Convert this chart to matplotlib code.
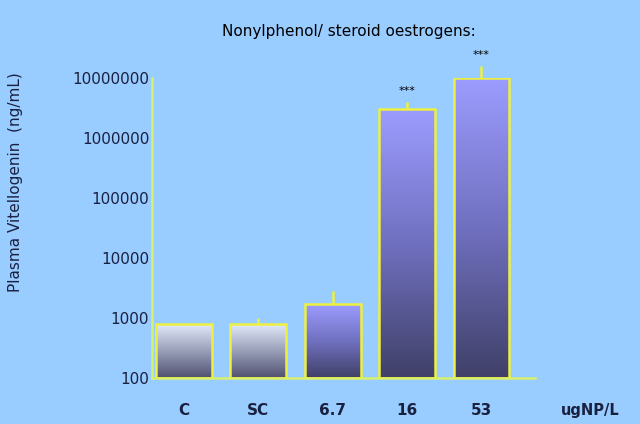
import numpy as np
import matplotlib.pyplot as plt
from matplotlib.colors import LinearSegmentedColormap

# Data
groups = ["C", "SC", "6.7", "16", "53"]
values = [800, 800, 1700, 3.0e6, 1.0e7]
err_up = [0, 200, 1100, 1.0e6, 6.0e6]
signif = ["", "", "", "***", "***"]

BG = "#99ccff"
AXIS = "#d8f070"
EDGE = "#eef040"
TXT = "#1a2040"

fig = plt.figure(figsize=(6.4, 4.24), dpi=100, facecolor=BG)
ax = fig.add_axes([0.2375, 0.1085, 0.5985, 0.7075], facecolor=BG)
ax.set_yscale("log")
ax.set_ylim(100, 1e7)
ax.set_xlim(-0.43, 4.72)

grey_cm = LinearSegmentedColormap.from_list("g", ["#e4ecfc", "#9aa0b8", "#505070"])
blue_cm = LinearSegmentedColormap.from_list("b", ["#9c9cff", "#7070c0", "#404068"])
grad = np.linspace(0, 1, 256).reshape(-1, 1)

x = np.arange(len(groups))
w = 0.75
bars = ax.bar(x, np.array(values) - 100, bottom=100, width=w,
              facecolor="none", edgecolor=EDGE, linewidth=1.8, zorder=3)

# gradient fill: drawn in axes coords so it runs evenly over each bar's height
to_axes = ax.transData + ax.transAxes.inverted()
for i, b in enumerate(bars):
    cm = grey_cm if i < 2 else blue_cm
    (l, bot), (r, top) = to_axes.transform([(b.get_x(), 100),
                                            (b.get_x() + w, values[i])])
    im = ax.imshow(grad, cmap=cm, aspect="auto", zorder=2,
                   transform=ax.transAxes, extent=(l, r, bot, top))
    im.set_clip_path(b)

ax.errorbar(x, values, yerr=[np.zeros(len(x)), err_up], fmt="none",
            ecolor=EDGE, elinewidth=1.8, capsize=0, zorder=4, clip_on=False)

for i, s in enumerate(signif):
    if s:
        ax.annotate(s, (x[i], values[i] + err_up[i]), xytext=(0, 4),
                    textcoords="offset points", ha="center", va="bottom",
                    fontsize=8, color="black", annotation_clip=False)

for side in ["top", "right"]:
    ax.spines[side].set_visible(False)
for side in ["left", "bottom"]:
    ax.spines[side].set_color(AXIS)
    ax.spines[side].set_linewidth(1.8)

ax.set_yticks([1e2, 1e3, 1e4, 1e5, 1e6, 1e7])
ax.set_yticklabels(["100", "1000", "10000", "100000", "1000000", "10000000"])
ax.minorticks_off()
ax.tick_params(axis="y", length=0, pad=2, labelsize=11, labelcolor=TXT)
ax.set_xticks(x)
ax.set_xticklabels(groups, fontweight="bold")
ax.tick_params(axis="x", length=0, pad=18, labelsize=11, labelcolor=TXT)
ax.set_xlim(-0.43, 4.72)
ax.set_ylim(100, 1e7)

fig.text(0.922, 0.033, "ugNP/L", fontsize=10.5, fontweight="bold",
         color=TXT, ha="center", va="center")
fig.text(0.545, 0.925, "Nonylphenol/ steroid oestrogens:", fontsize=11,
         color="black", ha="center", va="center")
fig.text(0.025, 0.57, "Plasma Vitellogenin  (ng/mL)", fontsize=11,
         color=TXT, rotation=90, ha="center", va="center")

fig.savefig("out.png", dpi=100, facecolor=BG)
